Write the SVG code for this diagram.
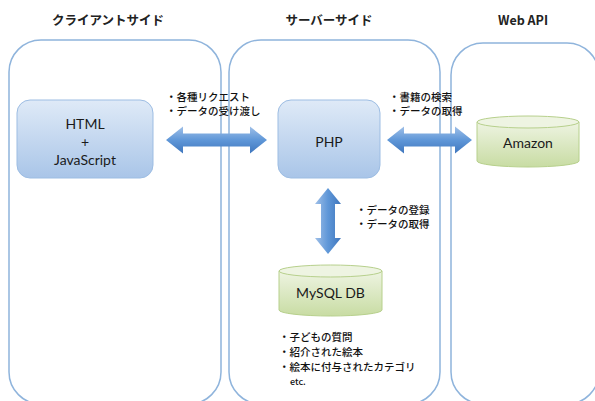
<svg xmlns="http://www.w3.org/2000/svg" width="595" height="401" viewBox="0 0 595 401">
<style>
.panel{fill:#fff;stroke:#8fb4dc;stroke-width:1.5}
.title{font-family:"Noto Sans CJK JP",sans-serif;font-size:12.5px;font-weight:bold;fill:#222;text-anchor:middle}
.lbl{font-family:"Lato","Noto Sans CJK JP",sans-serif;font-size:14px;fill:#1a1a1a;text-anchor:middle}
.note{font-family:"Noto Sans CJK JP",sans-serif;font-size:10.5px;font-weight:500;fill:#111}
.box{fill:url(#gBlue);stroke:#9dbde3;stroke-width:1}
.cyl{fill:url(#gGreen);stroke:#b7d08c;stroke-width:1}
.cyltop{fill:#eef4e2;stroke:#b7d08c;stroke-width:1}
.arr{fill:url(#gArr)}
.arrv{fill:url(#gArrV)}
</style>
<defs>
<linearGradient id="gBlue" x1="0" y1="0" x2="0" y2="1">
<stop offset="0" stop-color="#dfeaf7"/>
<stop offset="1" stop-color="#a9c5e8"/>
</linearGradient>
<linearGradient id="gGreen" x1="0" y1="0" x2="0" y2="1">
<stop offset="0" stop-color="#eef4e2"/>
<stop offset="1" stop-color="#c8dca3"/>
</linearGradient>
<linearGradient id="gArr" x1="0" y1="0" x2="0" y2="1">
<stop offset="0" stop-color="#a0c0e8"/>
<stop offset="0.5" stop-color="#5f97d8"/>
<stop offset="1" stop-color="#3f76bd"/>
</linearGradient>
<linearGradient id="gArrV" x1="0" y1="0" x2="1" y2="0">
<stop offset="0" stop-color="#a0c0e8"/>
<stop offset="0.5" stop-color="#5f97d8"/>
<stop offset="1" stop-color="#3f76bd"/>
</linearGradient>
</defs>

<g id="panel-client">
<rect class="panel" x="9" y="40" width="212" height="364" rx="32"/>
<text class="title" x="108" y="25">クライアントサイド</text>
</g>
<g id="panel-server">
<rect class="panel" x="229" y="40" width="211" height="364" rx="32"/>
<text class="title" x="329" y="25">サーバーサイド</text>
</g>
<g id="panel-webapi">
<rect class="panel" x="451" y="43" width="148" height="361" rx="32"/>
<text class="title" x="523" y="25">Web API</text>
</g>

<g id="connectors">
<polygon class="arr" points="166,140 183,126.5 183,133.5 250,133.5 250,126.5 267,140 250,153.5 250,146.5 183,146.5 183,153.5"/>
<polygon class="arr" points="387,140 404,126.5 404,133.5 455,133.5 455,126.5 472,140 455,153.5 455,146.5 404,146.5 404,153.5"/>
<polygon class="arrv" points="328,188 341,204 335,204 335,238 341,238 328,254 315,238 321,238 321,204 315,204"/>
<text class="note" x="166" y="101">・各種リクエスト</text>
<text class="note" x="166" y="115">・データの受け渡し</text>
<text class="note" x="389" y="101">・書籍の検索</text>
<text class="note" x="389" y="115">・データの取得</text>
<text class="note" x="356" y="214">・データの登録</text>
<text class="note" x="356" y="228">・データの取得</text>
</g>

<g id="node-html">
<rect class="box" x="17" y="100" width="136" height="78" rx="13"/>
<text class="lbl" x="85" y="129">HTML</text>
<text class="lbl" x="85" y="147">+</text>
<text class="lbl" x="85" y="165">JavaScript</text>
</g>

<g id="node-php">
<rect class="box" x="278" y="100" width="102" height="78" rx="13"/>
<text class="lbl" x="329" y="147">PHP</text>
</g>

<g id="node-amazon">
<path class="cyl" d="M477,122 L477,161 A51,6 0 0 0 579,161 L579,122 Z"/>
<ellipse class="cyltop" cx="528" cy="122" rx="51" ry="6"/>
<text class="lbl" x="528" y="148">Amazon</text>
</g>

<g id="node-mysql">
<path class="cyl" d="M279,271 L279,310 A51.5,6 0 0 0 382,310 L382,271 Z"/>
<ellipse class="cyltop" cx="330.5" cy="271" rx="51.5" ry="6"/>
<text class="lbl" x="330.5" y="298">MySQL DB</text>
</g>

<g id="db-notes">
<text class="note" x="279" y="341">・子どもの質問</text>
<text class="note" x="279" y="356">・紹介された絵本</text>
<text class="note" x="279" y="371">・絵本に付与されたカテゴリ</text>
<text class="note" x="290" y="385" style="font-size:9px">etc.</text>
</g>
</svg>
